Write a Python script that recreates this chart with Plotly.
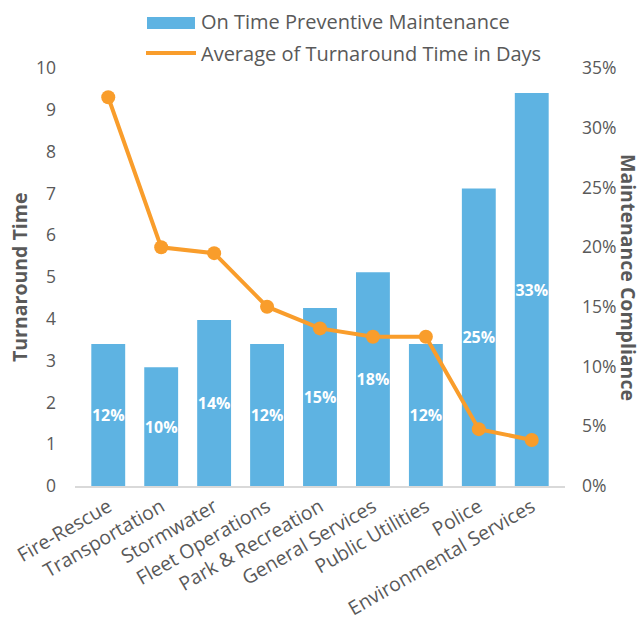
import plotly.graph_objects as go

categories = ["Fire-Rescue", "Transportation", "Stormwater", "Fleet Operations",
              "Park & Recreation", "General Services", "Public Utilities", "Police",
              "Environmental Services"]
compliance = [0.119, 0.0995, 0.139, 0.119, 0.149, 0.179, 0.119, 0.249, 0.329]
turnaround = [9.30, 5.71, 5.57, 4.29, 3.77, 3.57, 3.57, 1.36, 1.10]

BLUE = "#5EB3E2"
ORANGE = "#F99D2B"
GRAY = "#595959"
FONT = "Open Sans"

fig = go.Figure()
fig.add_trace(go.Bar(
    x=categories, y=compliance, name="On Time Preventive Maintenance",
    marker=dict(color=BLUE, line=dict(width=0)),
    texttemplate="%{y:.0%}", textposition="inside", insidetextanchor="middle",
    textangle=0, constraintext="none",
    textfont=dict(color="white", size=16, family=FONT, weight="bold"),
    yaxis="y", showlegend=False,
))
fig.add_trace(go.Scatter(
    x=categories, y=turnaround, name="Average of Turnaround Time in Days",
    mode="lines+markers", line=dict(color=ORANGE, width=4),
    marker=dict(color=ORANGE, size=14), yaxis="y2", showlegend=False,
))

fig.update_layout(
    width=642, height=628,
    margin=dict(l=75, r=77, t=68, b=142, autoexpand=False),
    paper_bgcolor="white", plot_bgcolor="white",
    font=dict(family=FONT, color=GRAY, size=17),
    bargap=0.36,
    xaxis=dict(tickangle=-30, showgrid=False, showline=True, linecolor="#D9D9D9",
               linewidth=2, ticks="", automargin=False,
               tickfont=dict(size=19.5, color=GRAY)),
    yaxis=dict(side="right", range=[0, 0.35], dtick=0.05, tickformat=".0%",
               showgrid=False, zeroline=False, showline=False, automargin=False,
               ticklabelstandoff=16, tickfont=dict(size=17.5, color=GRAY)),
    yaxis2=dict(side="left", overlaying="y", range=[0, 10], dtick=1,
                showgrid=False, zeroline=False, showline=False, automargin=False,
                ticklabelstandoff=18, tickfont=dict(size=17.5, color=GRAY)),
    showlegend=False,
)

# Axis titles
fig.add_annotation(text="<b>Turnaround Time</b>", xref="paper", yref="paper",
                   x=(19 - 75) / 490, y=(486 - 278) / 418, textangle=-90, showarrow=False,
                   font=dict(size=19.5, color=GRAY), xanchor="center", yanchor="middle")
fig.add_annotation(text="<b>Maintenance Compliance</b>", xref="paper", yref="paper",
                   x=(629 - 75) / 490, y=(486 - 277) / 418, textangle=90, showarrow=False,
                   font=dict(size=19.5, color=GRAY), xanchor="center", yanchor="middle",
                   borderpad=0)

# Legend (drawn manually to match wide swatch)
fig.add_shape(type="rect", xref="paper", yref="paper",
              x0=(147 - 75) / 490, x1=(195 - 75) / 490,
              y0=(486 - 29) / 418, y1=(486 - 17) / 418,
              fillcolor=BLUE, line=dict(width=0))
fig.add_shape(type="line", xref="paper", yref="paper",
              x0=(146 - 75) / 490, x1=(196 - 75) / 490,
              y0=(486 - 53) / 418, y1=(486 - 53) / 418,
              line=dict(color=ORANGE, width=4))
fig.add_annotation(text="On Time Preventive Maintenance", xref="paper", yref="paper",
                   x=(199 - 75) / 490, y=(486 - 21.5) / 418, xanchor="left", yanchor="middle",
                   showarrow=False, font=dict(size=20, color=GRAY))
fig.add_annotation(text="Average of Turnaround Time in Days", xref="paper", yref="paper",
                   x=(199 - 75) / 490, y=(486 - 53) / 418, xanchor="left", yanchor="middle",
                   showarrow=False, font=dict(size=20, color=GRAY))
fig.add_trace(go.Scatter(x=[(170.5 - 75) / 490], y=[(486 - 53) / 418], xaxis="x2", yaxis="y3",
                         mode="markers", marker=dict(color=ORANGE, size=12),
                         showlegend=False, hoverinfo="skip", cliponaxis=False))
fig.update_layout(
    xaxis2=dict(range=[0, 1], overlaying="x", visible=False, domain=[0, 1]),
    yaxis3=dict(range=[0, 1], overlaying="y", visible=False),
)

fig.write_html("out.html")
